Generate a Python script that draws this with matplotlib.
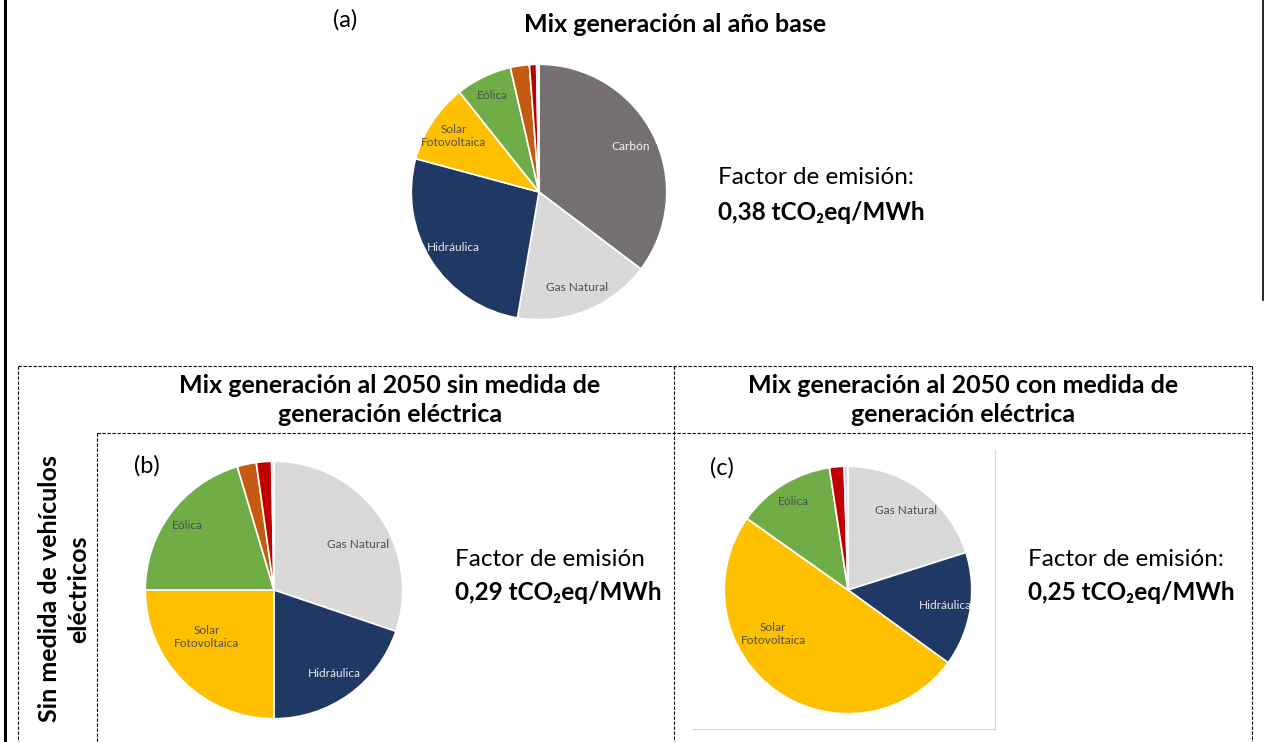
import numpy as np
import matplotlib.pyplot as plt
from matplotlib.lines import Line2D

plt.rcParams['font.family'] = ['Lato', 'DejaVu Sans']

W, H = 1268, 742

# datos (porcentajes)
fuentes_a = ['Carbón', 'Gas Natural', 'Hidráulica', 'Solar\nFotovoltaica', 'Eólica', '', '', '']
valores_a = [35.3, 17.4, 26.5, 10.1, 7.1, 2.4, 0.9, 0.3]
colores_a = ['#767171', '#D9D9D9', '#203864', '#FFC000', '#70AD47', '#C55A11', '#C00000', '#E2D0EC']

fuentes_b = ['Gas Natural', 'Hidráulica', 'Solar\nFotovoltaica', 'Eólica', '', '', '']
valores_b = [30.2, 19.8, 25.0, 20.4, 2.4, 1.9, 0.3]
colores_b = ['#D9D9D9', '#203864', '#FFC000', '#70AD47', '#C55A11', '#C00000', '#E2D0EC']

fuentes_c = ['Gas Natural', 'Hidráulica', 'Solar\nFotovoltaica', 'Eólica', '', '']
valores_c = [20.1, 14.9, 49.8, 12.8, 1.9, 0.5]
colores_c = ['#D9D9D9', '#203864', '#FFC000', '#70AD47', '#C00000', '#E2D0EC']

color_texto = {'Carbón': '#F2F2F2', 'Hidráulica': '#E7E6E6'}


def px(x, y):
    return x / W, 1 - y / H


def pastel(fig, cx, cy, r, valores, fuentes, colores, ajustes=None):
    # ajustes: etiqueta -> (distancia, giro en grados) para imitar la colocacion de Excel
    ajustes = ajustes or {}
    ax = fig.add_axes([(cx - r) / W, 1 - (cy + r) / H, 2 * r / W, 2 * r / H])
    wedges, _ = ax.pie(valores, colors=colores, startangle=90, counterclock=False,
                       wedgeprops=dict(edgecolor='white', linewidth=1.2))
    for w, nombre in zip(wedges, fuentes):
        if not nombre:
            continue
        d = 0.84 if nombre == 'Eólica' else 0.8
        giro = 0
        if nombre in ajustes:
            d, giro = ajustes[nombre]
        ang = np.deg2rad((w.theta1 + w.theta2) / 2 + giro)
        ax.text(d * np.cos(ang), d * np.sin(ang), nombre, ha='center', va='center',
                fontsize=8.6, color=color_texto.get(nombre, '#505050'), linespacing=1.25)
    ax.set_xlim(-1.01, 1.01)
    ax.set_ylim(-1.01, 1.01)
    ax.axis('off')
    return ax


fig = plt.figure(figsize=(W / 100, H / 100), dpi=100)

pastel(fig, 539, 192, 129, valores_a, fuentes_a, colores_a)
pastel(fig, 274, 590, 130, valores_b, fuentes_b, colores_b,
       {'Solar\nFotovoltaica': (0.64, -10), 'Gas Natural': (0.74, -7)})
pastel(fig, 848, 590, 125, valores_c, fuentes_c, colores_c,
       {'Solar\nFotovoltaica': (0.70, -24)})

# bordes
def linea(x0, y0, x1, y1, **kw):
    a, b = px(x0, y0)
    c, d = px(x1, y1)
    fig.add_artist(Line2D([a, c], [b, d], transform=fig.transFigure, **kw))

linea(5, 0, 5, H, color='black', lw=2.2)
linea(1263, 0, 1263, 300, color='black', lw=1.2)
dash = dict(color='black', lw=0.8, linestyle=(0, (3, 1.5)))
linea(18, 366, 1252, 366, **dash)
linea(97, 433, 1252, 433, **dash)
linea(18, 366, 18, H, **dash)
linea(97, 433, 97, H, **dash)
linea(674, 366, 674, H, **dash)
linea(1252, 366, 1252, H, **dash)
gris = dict(color='#D9D9D9', lw=0.8)
linea(692, 729, 995, 729, **gris)
linea(995, 450, 995, 729, **gris)

# textos
def texto(x, y, s, **kw):
    fig.text(*px(x, y), s, **kw)

tam = 18
fac = 17.5
texto(345, 20, '(a)', fontsize=17, ha='center', va='center')
texto(675, 24, 'Mix generación al año base', fontsize=tam, weight='bold', ha='center', va='center')
texto(718, 177, 'Factor de emisión:', fontsize=fac, ha='left', va='center')
texto(718, 212, '0,38 tCO₂eq/MWh', fontsize=fac, weight='bold', ha='left', va='center')

texto(390, 400, 'Mix generación al 2050 sin medida de\ngeneración eléctrica', fontsize=tam,
      weight='bold', ha='center', va='center', linespacing=1.35)
texto(963, 400, 'Mix generación al 2050 con medida de\ngeneración eléctrica', fontsize=tam,
      weight='bold', ha='center', va='center', linespacing=1.35)
texto(64, 589, 'Sin medida de vehículos\neléctricos', fontsize=tam, weight='bold',
      ha='center', va='center', rotation=90, linespacing=1.3)

texto(147, 466, '(b)', fontsize=17, ha='center', va='center')
texto(722, 468, '(c)', fontsize=17, ha='center', va='center')
texto(455, 559, 'Factor de emisión', fontsize=fac, ha='left', va='center')
texto(455, 592, '0,29 tCO₂eq/MWh', fontsize=fac, weight='bold', ha='left', va='center')
texto(1028, 559, 'Factor de emisión:', fontsize=fac, ha='left', va='center')
texto(1028, 592, '0,25 tCO₂eq/MWh', fontsize=fac, weight='bold', ha='left', va='center')

fig.savefig('out.png', dpi=100, facecolor='white')
